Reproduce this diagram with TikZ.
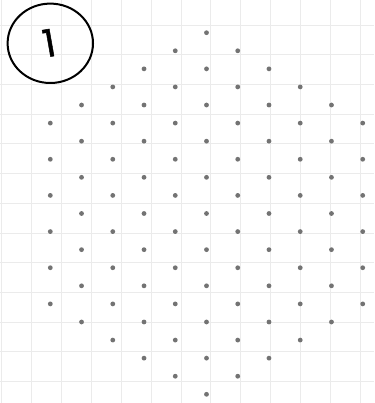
\documentclass[tikz,border=0pt]{standalone}
\usepackage{fontspec}
\newfontfamily\digitfont[FakeBold=1.2]{Poppins}
\begin{document}
\begin{tikzpicture}[x=1pt,y=-1pt,
  gridline/.style={draw=black!8, line width=0.9pt},
  latticedot/.style={fill=black!55},
  ring/.style={draw=black, line width=2pt},
  numeral/.style={font=\digitfont\fontsize{38}{38}\selectfont, inner sep=0pt,
    text height=26.7pt, text depth=0pt, rotate=10}]
\useasboundingbox (0,0) rectangle (374,403);
\fill[white] (0,0) rectangle (374,403);
% light background grid
\foreach \i in {0,...,12} {
  \draw[gridline] ({1.2+29.96*\i},0) -- ({1.2+29.96*\i},403);
  \draw[gridline] (0,{25+29.72*\i}) -- (374,{25+29.72*\i});
}
% hexagonal patch of a triangular lattice
\foreach \k in {-5,...,5} {
  \pgfmathtruncatemacro\colL{10-abs(\k)}
  \foreach \j in {0,...,\colL} {
    \fill[latticedot] ({206.5+31.24*\k},{213.5+18.08*(2*\j-\colL)}) circle (2.4pt);
  }
}
% circled label
\draw[ring] (50.3,43.3) ellipse [x radius=42.7pt, y radius=39.7pt];
\node[numeral] (one) at (49.2,43.3) {1};
\end{tikzpicture}
\end{document}
